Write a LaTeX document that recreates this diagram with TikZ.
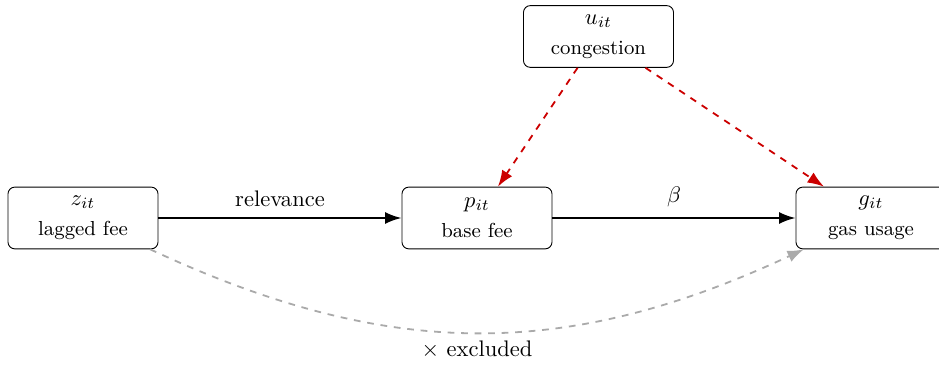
\documentclass[tikz,border=0pt]{standalone}
\usetikzlibrary{arrows.meta}
\definecolor{confred}{HTML}{CC0000}
\definecolor{exclgray}{HTML}{AAAAAA}
\begin{document}
\begin{tikzpicture}[x=0.444pt,y=-0.444pt,
  varbox/.style={draw, rounded corners=3pt, minimum width=66.6pt, minimum height=27.4pt, align=center, inner sep=2pt},
  tip/.style={-{Latex[length=7.3pt,width=5.3pt]}},
  causal/.style={tip, line width=0.9pt},
  confound/.style={tip, line width=0.8pt, dashed, confred},
  excl/.style={tip, line width=0.8pt, dashed, exclgray}]
\useasboundingbox (0,0) rectangle (939,365);
\node[varbox] (z) at (83,218) {$z_{it}$\\[1.5pt]{\small lagged fee}};
\node[varbox] (p) at (477,218) {$p_{it}$\\[1.5pt]{\small base fee}};
\node[varbox] (g) at (871,218) {$g_{it}$\\[1.5pt]{\small gas usage}};
\node[varbox] (u) at (598.5,36.5) {$u_{it}$\\[1.5pt]{\small congestion}};
\draw[causal] (z) -- node[above=1pt] {relevance} (p);
\draw[causal] (p) -- node[above=1pt] {$\beta$} (g);
\draw[confound] (u) -- (p);
\draw[confound] (u) -- (g);
\draw[excl] (z) to[bend right=25, looseness=1.03] node[below=0pt, text=black] {$\times$ excluded} (g);
\end{tikzpicture}
\end{document}
